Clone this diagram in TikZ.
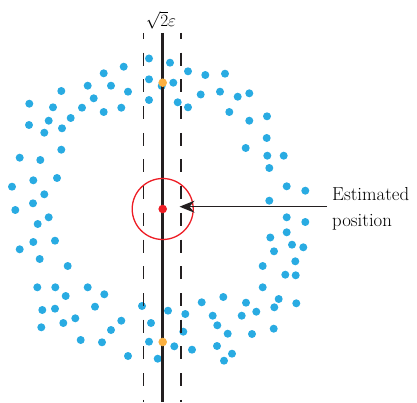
\documentclass[tikz,border=0pt]{standalone}
\usepackage{amsmath,amssymb}
\usepackage{fontspec}
\usepackage{tikz}
\usetikzlibrary{positioning,arrows.meta}
\usepackage{xcolor}
\definecolor{dotblue}{HTML}{29ABE2}
\definecolor{dotorange}{HTML}{FBB040}
\definecolor{estred}{HTML}{ED1C24}
\definecolor{ink}{HTML}{231F20}
\newcommand{\bigsize}{\fontsize{18.8pt}{26.7pt}\selectfont}
\begin{document}
\begin{tikzpicture}[x=1pt,y=-1pt,>={Stealth[length=15pt,width=12pt,inset=5pt]},
  bluedot/.style={fill=dotblue},
  orangedot/.style={fill=dotorange}]
\useasboundingbox (0,0) rectangle (417,403);
\foreach \x/\y in {149/58.5,170/62.7,123.7/66.7,188/71.3,205.3/75,225/73.7,103.7/73.3,149/79.3,161.7/86,173.3/82.7,
  87.7/85.7,111/85.7,61.3/91,128/91.7,200.7/94.5,220/91.7,237.7/96.7,249.3/93.3,93.7/98.3,149/100,177.7/102.3,
  29.3/103.7,53/107.3,82/107.7,121.3/107.7,188/107.3,229.3/112,103.7/112,70.7/118,48.7/120.7,249.3/120.7,267/116.3,
  29/125,62/128.3,44.3/132.7,266.7/138,
  61.3/149.7,19.7/157.7,40.3/160,57/178,33.3/180.3,12/186.7,44.3/194.3,33/203.3,15.3/210,48.7/217.3,37.7/224,
  33.3/242,55/240.7,19.7/249.3,39.7/259,67.7/266,
  245.7/148,267.3/155.7,283.7/155.7,269.3/168,286.7/186.3,305.3/190.7,269.3/200.7,286.7/217.3,305.3/222,286.7/232.3,
  270.3/237.5,292/244.7,303.3/247.3,274/251.3,295.3/261.3,262.7/266,285.3/274.7,295.7/275.3,262.7/287.3,278.7/299,296.3/303.3,
  37.3/287.3,55.3/287.3,87.7/287.3,65.7/296,104.3/294.3,142/306,168/310.7,201.7/302.3,223.3/297,246/302.7,256.3/311.7,
  274.3/307.3,42.3/310,55/308.7,95/306.7,185.3/314,212.7/315.7,241.7/315.7,75.3/318.3,121.3/320.7,151/323,63.3/323,
  41.3/327.3,111/330,183.3/331.7,217.3/325.3,227.7/333.7,252/334,273.7/328.7,80.7/340,102/342.3,149/341.7,174.3/346.3,
  192/349.7,217/346,232/353.7,224/360.7,128/356,157.7/358.7}
  \fill[bluedot] (\x,\y) circle (4pt);
\draw[ink,line width=1.3pt,dash pattern=on 13pt off 13.7pt,dash phase=7pt] (143.7,33) -- (143.7,402);
\draw[ink,line width=1.3pt,dash pattern=on 13pt off 13.7pt,dash phase=7pt] (181,33) -- (181,402);
\draw[ink,line width=3.2pt] (162.7,33) -- (162.7,402);
\node[anchor=base,inner sep=0] (eps) at (161,26.7) {\bigsize$\sqrt{2}\varepsilon$};
\node[circle,draw=estred,line width=1.3pt,minimum size=61pt,inner sep=0] (est) at (162.7,209) {};
\fill[estred] (est.center) circle (4.3pt);
\fill[orangedot] (162.7,82.7) circle (4.3pt);
\fill[orangedot] (162.7,342) circle (4.3pt);
\node[align=left,anchor=west,inner sep=0,font=\bigsize] (lbl) at (332,208.7) {Estimated\\position};
\coordinate (tip) at (179.5,206.7);
\draw[->,ink,line width=1.3pt] ([xshift=-5pt]lbl.west |- tip) -- (tip);
\end{tikzpicture}
\end{document}
